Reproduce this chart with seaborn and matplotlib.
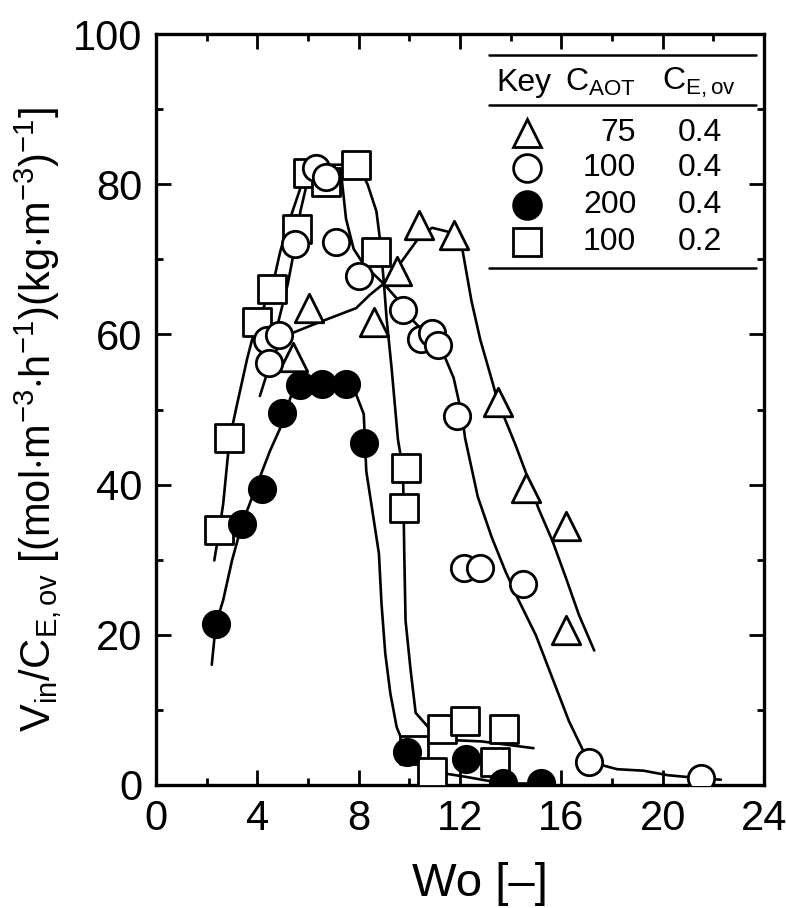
import numpy as np
import pandas as pd
import seaborn as sns
import matplotlib.pyplot as plt
from matplotlib.ticker import MultipleLocator

tri_x = [5.4, 6.05, 8.6, 9.5, 10.4, 11.75, 13.5, 14.6, 16.2, 16.2]
tri_y = [57.0, 63.5, 61.6, 68.4, 74.6, 73.2, 51.0, 39.6, 34.5, 20.6]

circ_x = [4.4, 4.45, 4.85, 5.5, 6.3, 6.7, 7.1, 8.0, 9.75, 10.45, 10.9, 11.15, 11.9, 12.15, 12.8, 14.5, 17.1, 21.5]
circ_y = [59.2, 56.2, 59.9, 72.0, 82.2, 81.0, 72.3, 67.8, 63.2, 59.4, 60.2, 58.6, 49.1, 28.9, 28.9, 26.8, 3.1, 0.9]

fill_x = [2.36, 3.4, 4.2, 4.97, 5.7, 6.55, 7.5, 8.2, 9.9, 12.25, 13.7, 15.2]
fill_y = [21.4, 34.8, 39.4, 49.6, 53.2, 53.4, 53.4, 45.6, 4.4, 3.4, 0.2, 0.2]

sq_x = [2.5, 2.9, 3.97, 4.57, 5.55, 6.0, 6.7, 7.9, 8.7, 9.85, 9.8, 10.2, 10.9, 11.3, 12.2, 13.4, 13.75]
sq_y = [34.0, 46.2, 61.6, 66.0, 74.0, 81.5, 80.3, 82.6, 71.0, 42.2, 36.9, 4.7, 1.7, 7.5, 8.5, 3.1, 7.4]

# hand drawn trend curves
tri_fit_x = [5.1, 6.35, 7.9, 8.45, 9.0, 9.5, 10.4, 10.9, 11.5, 12.0, 12.1, 12.45, 12.8, 13.2, 13.5,
             14.2, 14.6, 15.1, 15.65, 16.2, 16.7, 17.3]
tri_fit_y = [59.8, 61.5, 63.5, 65.3, 66.8, 68.8, 73.0, 74.2, 73.7, 72.0, 71.2, 64.5, 59.3, 54.6, 51.0,
             45.2, 41.6, 36.8, 32.5, 27.4, 22.6, 17.9]

circ_fit_x = [4.1, 4.4, 4.8, 5.2, 5.5, 5.7, 5.95, 6.3, 6.9, 7.3, 7.5, 7.8, 8.2, 9.0, 9.5, 10.05, 10.55,
              11.35, 11.75, 12.1, 12.2, 12.7, 13.25, 13.8, 14.3, 15.0, 15.65, 16.3, 16.9, 17.1, 18.2,
              19.25, 20.2, 21.5, 22.3]
circ_fit_y = [51.8, 55.0, 61.3, 66.7, 72.0, 76.4, 80.0, 82.4, 82.3, 81.7, 75.4, 71.4, 69.3, 66.7, 64.8,
              62.2, 60.4, 57.4, 54.2, 48.9, 46.2, 38.4, 33.0, 28.4, 24.7, 19.9, 14.2, 8.5, 4.3, 3.1, 2.1,
              1.9, 1.3, 0.9, 0.7]

fill_fit_x = [2.2, 2.36, 2.65, 3.0, 3.4, 3.85, 4.5, 4.9, 5.4, 5.7, 6.55, 7.5, 7.9, 8.2, 8.3, 8.5, 8.8,
              8.9, 9.05, 9.25, 9.5, 9.9, 10.7, 12.2, 13.7, 15.2]
fill_fit_y = [16.0, 21.4, 24.6, 29.9, 34.8, 38.8, 44.5, 47.5, 52.5, 53.2, 53.5, 53.4, 52.0, 49.4, 41.8,
              37.4, 30.8, 24.2, 17.5, 12.2, 7.7, 4.4, 1.9, 1.1, 0.2, 0.2]

sq_fit_x = [2.3, 2.5, 2.65, 2.9, 3.2, 3.6, 3.97, 4.3, 4.57, 4.9, 5.3, 5.7, 6.0, 6.75, 7.35, 7.9, 8.35,
            8.7, 8.85, 9.0, 9.1, 9.3, 9.55, 9.75, 9.8, 9.85, 10.05, 10.25, 10.85, 11.5, 12.85, 14.9]
sq_fit_y = [29.9, 34.0, 37.4, 46.0, 50.7, 56.8, 61.6, 64.0, 66.0, 71.0, 75.5, 79.5, 81.6, 82.6, 82.6,
            83.0, 80.0, 76.4, 72.4, 66.7, 62.2, 55.5, 46.0, 42.0, 30.8, 21.9, 15.3, 9.6, 7.3, 6.0, 5.8, 4.9]

key_marker = ['^', 'o', 'o', 's']
key_fill = ['white', 'white', 'black', 'white']
key_caot = ['75', '100', '200', '100']
key_ce = ['0.4', '0.4', '0.4', '0.2']

sns.set_style("ticks")
plt.rcParams['font.family'] = ['Liberation Sans', 'DejaVu Sans']
plt.rcParams['mathtext.fontset'] = 'custom'
plt.rcParams['mathtext.rm'] = 'Liberation Sans'
plt.rcParams['mathtext.it'] = 'Liberation Sans:italic'
plt.rcParams['text.color'] = 'black'
plt.rcParams['axes.labelcolor'] = 'black'
plt.rcParams['xtick.color'] = 'black'
plt.rcParams['ytick.color'] = 'black'
plt.rcParams['axes.edgecolor'] = 'black'

fig = plt.figure(figsize=(7.86, 9.08), dpi=100)
ax = fig.add_axes([0.1985, 0.1355, 0.7735, 0.827])

# curves
for fx, fy in [(tri_fit_x, tri_fit_y), (circ_fit_x, circ_fit_y),
               (fill_fit_x, fill_fit_y), (sq_fit_x, sq_fit_y)]:
    sns.lineplot(x=fx, y=fy, sort=False, estimator=None, color='black', lw=1.9, ax=ax, zorder=2)

# points
mk = dict(edgecolor='black', linewidth=2.0, zorder=3, ax=ax, legend=False)
sns.scatterplot(x=tri_x, y=tri_y, marker='^', s=420, color='white', **mk)
sns.scatterplot(x=sq_x, y=sq_y, marker='s', s=400, color='white', **mk)
sns.scatterplot(x=fill_x, y=fill_y, marker='o', s=360, color='black', **mk)
sns.scatterplot(x=circ_x, y=circ_y, marker='o', s=360, color='white', **mk)

ax.set_xlim(0, 24)
ax.set_ylim(0, 100)
ax.xaxis.set_major_locator(MultipleLocator(4))
ax.xaxis.set_minor_locator(MultipleLocator(2))
ax.yaxis.set_major_locator(MultipleLocator(20))
ax.yaxis.set_minor_locator(MultipleLocator(10))
ax.tick_params(which='both', direction='in', top=True, right=True, width=2)
ax.tick_params(which='major', length=11, labelsize=30, pad=10)
ax.tick_params(which='minor', length=5)
for sp in ax.spines.values():
    sp.set_linewidth(2.4)

ax.set_xlabel('Wo [\u2013]', fontsize=34)
ax.xaxis.set_label_coords(0.533, -0.102)
ax.set_ylabel(r'V$_{\rm in}$/C$_{\rm E,ov}$ [(mol$\cdot$m$^{-3}$$\cdot$h$^{-1}$)(kg$\cdot$m$^{-3}$)$^{-1}$]',
              fontsize=30)
ax.yaxis.set_label_coords(-0.152, 0.487)

# key table
tr = ax.transAxes
for yy in [0.972, 0.905, 0.688]:
    ax.plot([0.548, 0.987], [yy, yy], color='black', lw=1.8, transform=tr, clip_on=False)
ax.text(0.560, 0.935, 'Key', fontsize=23, ha='left', va='center', transform=tr)
ax.text(0.673, 0.935, r'C$_{\rm AOT}$', fontsize=23, ha='left', va='center', transform=tr)
ax.text(0.832, 0.935, r'C$_{\rm E,ov}$', fontsize=23, ha='left', va='center', transform=tr)
rows_y = [0.868, 0.821, 0.772, 0.723]
for m, fc, ca, ce, yy in zip(key_marker, key_fill, key_caot, key_ce, rows_y):
    ax.plot([0.610], [yy], marker=m, ms=20, mfc=fc, mec='black', mew=2.0, transform=tr, clip_on=False)
    ax.text(0.790, yy, ca, fontsize=23, ha='right', va='center', transform=tr)
    ax.text(0.858, yy, ce, fontsize=23, ha='left', va='center', transform=tr)

fig.savefig('out.png', dpi=100)
